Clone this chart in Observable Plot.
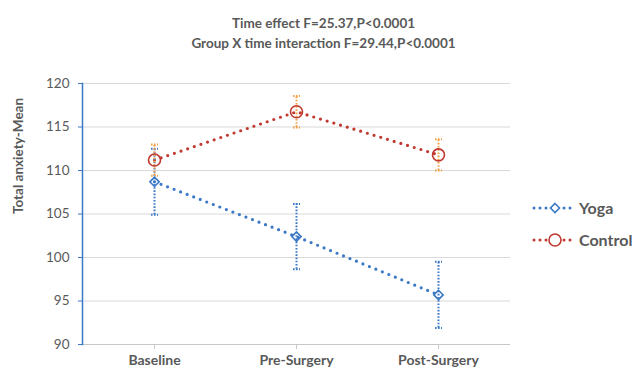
<!DOCTYPE html>
<html><head><meta charset="utf-8">
<script src="https://cdn.jsdelivr.net/npm/d3@7"></script>
<script src="https://cdn.jsdelivr.net/npm/@observablehq/plot@0.6"></script>
<style>body{margin:0;background:#fff;} #chart{position:relative;width:636px;height:376px;}</style>
</head><body><div id="chart"></div>
<script>
const categories = ["Baseline", "Pre-Surgery", "Post-Surgery"];
const groups = ["Yoga", "Control"];
const yogaMean = [108.7, 102.4, 95.7];
const yogaErr = [3.8, 3.75, 3.8];
const controlMean = [111.2, 116.75, 111.8];
const controlErr = [1.8, 1.8, 1.8];
const yTicks = [90, 95, 100, 105, 110, 115, 120];
const titleLines = ["Time effect F=25.37,P<0.0001", "Group X time interaction F=29.44,P<0.0001"];
const yLabel = "Total anxiety-Mean";

const BLUE = "#3b78c6", RED = "#c0392f", ORANGE = "#f4a046", GRAY = "#595959";

const yoga = categories.map((c, i) => ({group: "Yoga", x: c, y: yogaMean[i], lo: yogaMean[i] - yogaErr[i], hi: yogaMean[i] + yogaErr[i]}));
const control = categories.map((c, i) => ({group: "Control", x: c, y: controlMean[i], lo: controlMean[i] - controlErr[i], hi: controlMean[i] + controlErr[i]}));
const rows = yoga.concat(control);

const capSymbol = {draw(ctx) { ctx.moveTo(-3.5, 0); ctx.lineTo(3.5, 0); }};

const errMarks = (data, color) => [
  Plot.ruleX(data, {x: "x", y1: "lo", y2: "hi", stroke: color, strokeWidth: 2, strokeDasharray: "1.6,1.6"}),
  Plot.dot(data, {x: "x", y: "hi", symbol: capSymbol, r: 3, stroke: color, strokeWidth: 2, strokeDasharray: "1.6,1.4"}),
  Plot.dot(data, {x: "x", y: "lo", symbol: capSymbol, r: 3, stroke: color, strokeWidth: 2, strokeDasharray: "1.6,1.4"})
];

const chart = Plot.plot({
  width: 636, height: 376,
  marginLeft: 82, marginRight: 126, marginTop: 83, marginBottom: 32,
  style: {fontFamily: "Lato, 'Open Sans', sans-serif", fontSize: "13px", color: GRAY, background: "#fff"},
  x: {type: "point", domain: categories, padding: 0.5, label: null},
  y: {domain: [90, 120], label: null},
  color: {domain: groups, range: [BLUE, RED]},
  marks: [
    Plot.gridY(yTicks.filter(t => t > 90), {stroke: "#d9d9d9", strokeOpacity: 1, strokeWidth: 1.2}),
    Plot.ruleY([90], {stroke: "#c8c8c8", strokeWidth: 1.2}),
    Plot.axisX({tickSize: 5, stroke: "#c8c8c8", fill: GRAY, fontWeight: "bold", fontSize: 14, tickPadding: 6, label: null}),
    Plot.axisY({ticks: yTicks, tickSize: 4, stroke: BLUE, fill: GRAY, tickPadding: 9, fontSize: 13.5, label: null}),
    Plot.frame({anchor: "left", stroke: BLUE, strokeWidth: 1.5}),
    Plot.line(rows, {x: "x", y: "y", z: "group", stroke: "group", strokeWidth: 3.2, strokeDasharray: "0,7", strokeLinecap: "round"}),
    ...errMarks(yoga, BLUE),
    ...errMarks(control, ORANGE),
    Plot.dot(yoga, {x: "x", y: "y", symbol: "diamond2", r: 4.2, stroke: BLUE, strokeWidth: 1.6, fill: "none"}),
    Plot.dot(control, {x: "x", y: "y", symbol: "circle", r: 6, stroke: RED, strokeWidth: 1.6, fill: "none"}),
    Plot.text([titleLines[0]], {text: d => d, frameAnchor: "top", dx: 27, dy: -65, fontWeight: "bold", fill: GRAY, fontSize: 13.5}),
    Plot.text([titleLines[1]], {text: d => d, frameAnchor: "top", dx: 27, dy: -45, fontWeight: "bold", fill: GRAY, fontSize: 13.5}),
    Plot.text([yLabel], {text: d => d, frameAnchor: "left", rotate: -90, dx: -64, fontWeight: "bold", fill: GRAY, fontSize: 13.5})
  ]
});

// legend
const svg = d3.select(chart);
const legend = [{name: groups[0], color: BLUE, sym: "diamond", y: 208}, {name: groups[1], color: RED, sym: "circle", y: 240}];
legend.forEach(l => {
  const g = svg.append("g");
  g.append("line").attr("x1", 534).attr("x2", 576).attr("y1", l.y).attr("y2", l.y)
    .attr("stroke", l.color).attr("stroke-width", 3).attr("stroke-dasharray", "0,6").attr("stroke-linecap", "round");
  if (l.sym === "diamond") {
    g.append("path").attr("d", d3.symbol(d3.symbolDiamond2, 52)()).attr("transform", `translate(555,${l.y})`)
      .attr("fill", "#fff").attr("stroke", l.color).attr("stroke-width", 1.6);
  } else {
    g.append("circle").attr("cx", 555).attr("cy", l.y).attr("r", 6).attr("fill", "#fff").attr("stroke", l.color).attr("stroke-width", 1.6);
  }
  g.append("text").attr("x", 579).attr("y", l.y).attr("dy", "0.35em").attr("fill", GRAY)
    .attr("text-anchor", "start").attr("font-weight", "bold").attr("font-size", 16).text(l.name);
});

document.getElementById("chart").appendChild(chart);
</script>
</body></html>
